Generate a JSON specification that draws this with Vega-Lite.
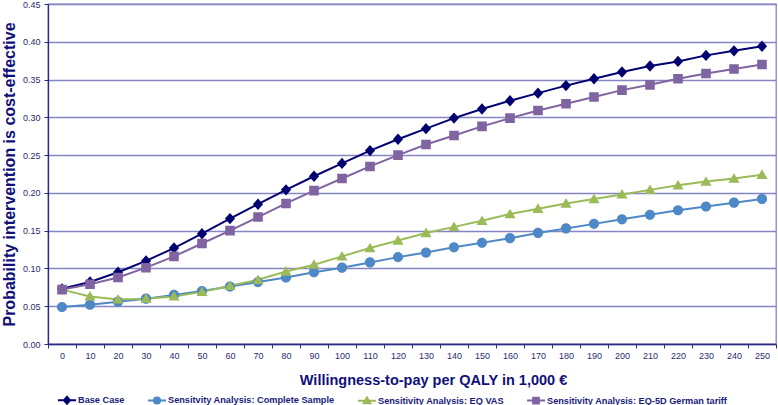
{
  "$schema": "https://vega.github.io/schema/vega-lite/v6.json",
  "width": 728,
  "height": 340,
  "autosize": "none",
  "padding": {"left": 48, "top": 4, "right": 2, "bottom": 61},
  "config": {
    "view": {"stroke": "#8585C2", "strokeWidth": 1.3},
    "font": "Liberation Sans"
  },
  "data": {
    "values": [
      {"wtp": 0, "series": "Base Case", "p": 0.073},
      {"wtp": 10, "series": "Base Case", "p": 0.082},
      {"wtp": 20, "series": "Base Case", "p": 0.095},
      {"wtp": 30, "series": "Base Case", "p": 0.110},
      {"wtp": 40, "series": "Base Case", "p": 0.127},
      {"wtp": 50, "series": "Base Case", "p": 0.146},
      {"wtp": 60, "series": "Base Case", "p": 0.166},
      {"wtp": 70, "series": "Base Case", "p": 0.185},
      {"wtp": 80, "series": "Base Case", "p": 0.204},
      {"wtp": 90, "series": "Base Case", "p": 0.222},
      {"wtp": 100, "series": "Base Case", "p": 0.239},
      {"wtp": 110, "series": "Base Case", "p": 0.256},
      {"wtp": 120, "series": "Base Case", "p": 0.271},
      {"wtp": 130, "series": "Base Case", "p": 0.285},
      {"wtp": 140, "series": "Base Case", "p": 0.299},
      {"wtp": 150, "series": "Base Case", "p": 0.311},
      {"wtp": 160, "series": "Base Case", "p": 0.322},
      {"wtp": 170, "series": "Base Case", "p": 0.332},
      {"wtp": 180, "series": "Base Case", "p": 0.342},
      {"wtp": 190, "series": "Base Case", "p": 0.351},
      {"wtp": 200, "series": "Base Case", "p": 0.360},
      {"wtp": 210, "series": "Base Case", "p": 0.368},
      {"wtp": 220, "series": "Base Case", "p": 0.374},
      {"wtp": 230, "series": "Base Case", "p": 0.382},
      {"wtp": 240, "series": "Base Case", "p": 0.388},
      {"wtp": 250, "series": "Base Case", "p": 0.394},
      {"wtp": 0, "series": "Sensitvity Analysis: Complete Sample", "p": 0.049},
      {"wtp": 10, "series": "Sensitvity Analysis: Complete Sample", "p": 0.052},
      {"wtp": 20, "series": "Sensitvity Analysis: Complete Sample", "p": 0.056},
      {"wtp": 30, "series": "Sensitvity Analysis: Complete Sample", "p": 0.060},
      {"wtp": 40, "series": "Sensitvity Analysis: Complete Sample", "p": 0.065},
      {"wtp": 50, "series": "Sensitvity Analysis: Complete Sample", "p": 0.070},
      {"wtp": 60, "series": "Sensitvity Analysis: Complete Sample", "p": 0.076},
      {"wtp": 70, "series": "Sensitvity Analysis: Complete Sample", "p": 0.082},
      {"wtp": 80, "series": "Sensitvity Analysis: Complete Sample", "p": 0.088},
      {"wtp": 90, "series": "Sensitvity Analysis: Complete Sample", "p": 0.095},
      {"wtp": 100, "series": "Sensitvity Analysis: Complete Sample", "p": 0.101},
      {"wtp": 110, "series": "Sensitvity Analysis: Complete Sample", "p": 0.108},
      {"wtp": 120, "series": "Sensitvity Analysis: Complete Sample", "p": 0.115},
      {"wtp": 130, "series": "Sensitvity Analysis: Complete Sample", "p": 0.121},
      {"wtp": 140, "series": "Sensitvity Analysis: Complete Sample", "p": 0.128},
      {"wtp": 150, "series": "Sensitvity Analysis: Complete Sample", "p": 0.134},
      {"wtp": 160, "series": "Sensitvity Analysis: Complete Sample", "p": 0.140},
      {"wtp": 170, "series": "Sensitvity Analysis: Complete Sample", "p": 0.147},
      {"wtp": 180, "series": "Sensitvity Analysis: Complete Sample", "p": 0.153},
      {"wtp": 190, "series": "Sensitvity Analysis: Complete Sample", "p": 0.159},
      {"wtp": 200, "series": "Sensitvity Analysis: Complete Sample", "p": 0.165},
      {"wtp": 210, "series": "Sensitvity Analysis: Complete Sample", "p": 0.171},
      {"wtp": 220, "series": "Sensitvity Analysis: Complete Sample", "p": 0.177},
      {"wtp": 230, "series": "Sensitvity Analysis: Complete Sample", "p": 0.182},
      {"wtp": 240, "series": "Sensitvity Analysis: Complete Sample", "p": 0.187},
      {"wtp": 250, "series": "Sensitvity Analysis: Complete Sample", "p": 0.192},
      {"wtp": 0, "series": "Sensitivity Analysis: EQ VAS", "p": 0.072},
      {"wtp": 10, "series": "Sensitivity Analysis: EQ VAS", "p": 0.063},
      {"wtp": 20, "series": "Sensitivity Analysis: EQ VAS", "p": 0.059},
      {"wtp": 30, "series": "Sensitivity Analysis: EQ VAS", "p": 0.060},
      {"wtp": 40, "series": "Sensitivity Analysis: EQ VAS", "p": 0.063},
      {"wtp": 50, "series": "Sensitivity Analysis: EQ VAS", "p": 0.069},
      {"wtp": 60, "series": "Sensitivity Analysis: EQ VAS", "p": 0.077},
      {"wtp": 70, "series": "Sensitivity Analysis: EQ VAS", "p": 0.085},
      {"wtp": 80, "series": "Sensitivity Analysis: EQ VAS", "p": 0.096},
      {"wtp": 90, "series": "Sensitivity Analysis: EQ VAS", "p": 0.105},
      {"wtp": 100, "series": "Sensitivity Analysis: EQ VAS", "p": 0.116},
      {"wtp": 110, "series": "Sensitivity Analysis: EQ VAS", "p": 0.127},
      {"wtp": 120, "series": "Sensitivity Analysis: EQ VAS", "p": 0.137},
      {"wtp": 130, "series": "Sensitivity Analysis: EQ VAS", "p": 0.147},
      {"wtp": 140, "series": "Sensitivity Analysis: EQ VAS", "p": 0.155},
      {"wtp": 150, "series": "Sensitivity Analysis: EQ VAS", "p": 0.163},
      {"wtp": 160, "series": "Sensitivity Analysis: EQ VAS", "p": 0.172},
      {"wtp": 170, "series": "Sensitivity Analysis: EQ VAS", "p": 0.179},
      {"wtp": 180, "series": "Sensitivity Analysis: EQ VAS", "p": 0.186},
      {"wtp": 190, "series": "Sensitivity Analysis: EQ VAS", "p": 0.192},
      {"wtp": 200, "series": "Sensitivity Analysis: EQ VAS", "p": 0.198},
      {"wtp": 210, "series": "Sensitivity Analysis: EQ VAS", "p": 0.204},
      {"wtp": 220, "series": "Sensitivity Analysis: EQ VAS", "p": 0.210},
      {"wtp": 230, "series": "Sensitivity Analysis: EQ VAS", "p": 0.215},
      {"wtp": 240, "series": "Sensitivity Analysis: EQ VAS", "p": 0.219},
      {"wtp": 250, "series": "Sensitivity Analysis: EQ VAS", "p": 0.224},
      {"wtp": 0, "series": "Sensitivity Analysis: EQ-5D German tariff", "p": 0.072},
      {"wtp": 10, "series": "Sensitivity Analysis: EQ-5D German tariff", "p": 0.079},
      {"wtp": 20, "series": "Sensitivity Analysis: EQ-5D German tariff", "p": 0.088},
      {"wtp": 30, "series": "Sensitivity Analysis: EQ-5D German tariff", "p": 0.101},
      {"wtp": 40, "series": "Sensitivity Analysis: EQ-5D German tariff", "p": 0.116},
      {"wtp": 50, "series": "Sensitivity Analysis: EQ-5D German tariff", "p": 0.133},
      {"wtp": 60, "series": "Sensitivity Analysis: EQ-5D German tariff", "p": 0.150},
      {"wtp": 70, "series": "Sensitivity Analysis: EQ-5D German tariff", "p": 0.168},
      {"wtp": 80, "series": "Sensitivity Analysis: EQ-5D German tariff", "p": 0.186},
      {"wtp": 90, "series": "Sensitivity Analysis: EQ-5D German tariff", "p": 0.203},
      {"wtp": 100, "series": "Sensitivity Analysis: EQ-5D German tariff", "p": 0.219},
      {"wtp": 110, "series": "Sensitivity Analysis: EQ-5D German tariff", "p": 0.235},
      {"wtp": 120, "series": "Sensitivity Analysis: EQ-5D German tariff", "p": 0.250},
      {"wtp": 130, "series": "Sensitivity Analysis: EQ-5D German tariff", "p": 0.264},
      {"wtp": 140, "series": "Sensitivity Analysis: EQ-5D German tariff", "p": 0.276},
      {"wtp": 150, "series": "Sensitivity Analysis: EQ-5D German tariff", "p": 0.288},
      {"wtp": 160, "series": "Sensitivity Analysis: EQ-5D German tariff", "p": 0.299},
      {"wtp": 170, "series": "Sensitivity Analysis: EQ-5D German tariff", "p": 0.309},
      {"wtp": 180, "series": "Sensitivity Analysis: EQ-5D German tariff", "p": 0.318},
      {"wtp": 190, "series": "Sensitivity Analysis: EQ-5D German tariff", "p": 0.327},
      {"wtp": 200, "series": "Sensitivity Analysis: EQ-5D German tariff", "p": 0.336},
      {"wtp": 210, "series": "Sensitivity Analysis: EQ-5D German tariff", "p": 0.343},
      {"wtp": 220, "series": "Sensitivity Analysis: EQ-5D German tariff", "p": 0.351},
      {"wtp": 230, "series": "Sensitivity Analysis: EQ-5D German tariff", "p": 0.358},
      {"wtp": 240, "series": "Sensitivity Analysis: EQ-5D German tariff", "p": 0.364},
      {"wtp": 250, "series": "Sensitivity Analysis: EQ-5D German tariff", "p": 0.370}
    ]
  },
  "encoding": {
    "x": {
      "field": "wtp",
      "type": "ordinal",
      "scale": {"type": "band", "paddingInner": 0, "paddingOuter": 0},
      "axis": {
        "title": "Willingness-to-pay per QALY in 1,000 €",
        "titleFont": "Liberation Sans",
        "titleFontSize": 14.5,
        "titleFontWeight": "bold",
        "titleColor": "#10107A",
        "titleX": 385,
        "titleY": 40.5,
        "titleBaseline": "alphabetic",
        "labelAngle": 0,
        "labelFont": "Liberation Sans",
        "labelFontSize": 9,
        "labelColor": "#2B2B6B",
        "labelPadding": 3,
        "tickBand": "extent",
        "tickSize": 4,
        "tickColor": "#2A2A80",
        "domainColor": "#2A2A80",
        "domainWidth": 1.3,
        "grid": false
      }
    },
    "y": {
      "field": "p",
      "type": "quantitative",
      "scale": {"domain": [0, 0.45]},
      "axis": {
        "title": "Probability intervention is cost-effective",
        "titleFont": "Liberation Sans",
        "titleFontSize": 16,
        "titleFontWeight": "bold",
        "titleColor": "#10107A",
        "titlePadding": 5,
        "values": [0, 0.05, 0.1, 0.15, 0.2, 0.25, 0.3, 0.35, 0.4, 0.45],
        "format": ".2f",
        "labelFont": "Liberation Sans",
        "labelFontSize": 9,
        "labelColor": "#2B2B6B",
        "labelPadding": 4,
        "tickSize": 4,
        "tickColor": "#2A2A80",
        "domainColor": "#2A2A80",
        "domainWidth": 1.3,
        "grid": true,
        "gridColor": "#8585C2",
        "gridWidth": 1.3
      }
    },
    "color": {
      "field": "series",
      "type": "nominal",
      "scale": {
        "domain": ["Base Case", "Sensitvity Analysis: Complete Sample", "Sensitivity Analysis: EQ VAS", "Sensitivity Analysis: EQ-5D German tariff"],
        "range": ["#000070", "#4F88C6", "#9BBB59", "#8064A2"]
      },
      "legend": {
        "orient": "none",
        "legendX": 9,
        "legendY": 386,
        "direction": "horizontal",
        "title": null,
        "symbolSize": 324,
        "labelFont": "Liberation Sans",
        "labelFontWeight": "bold",
        "labelFontSize": 9.2,
        "labelColor": "#1A1A7A",
        "labelLimit": 0,
        "labelOffset": 1,
        "columnPadding": 19,
        "padding": 0,
        "encode": {
          "symbols": {
            "update": {
              "stroke": {"scale": "color", "field": "value"},
              "strokeWidth": {"value": 2},
              "opacity": {"value": 1}
            }
          }
        }
      }
    }
  },
  "layer": [
    {"mark": {"type": "line", "strokeWidth": 2}},
    {
      "mark": {"type": "point", "filled": true, "opacity": 1, "size": 900},
      "encoding": {
        "shape": {
          "field": "series",
          "type": "nominal",
          "scale": {
            "domain": ["Base Case", "Sensitvity Analysis: Complete Sample", "Sensitivity Analysis: EQ VAS", "Sensitivity Analysis: EQ-5D German tariff"],
            "range": [
              "M-1,0H1M0,-0.38L0.34,0L0,0.38L-0.34,0Z",
              "M-1,0H1M-0.34,0A0.34,0.34,0,1,1,0.34,0A0.34,0.34,0,1,1,-0.34,0Z",
              "M-1,0H1M0,-0.36L0.37,0.28L-0.37,0.28Z",
              "M-1,0H1M-0.32,-0.32H0.32V0.32H-0.32Z"
            ]
          },
          "legend": {
            "orient": "none",
            "legendX": 9,
            "legendY": 386,
            "direction": "horizontal",
            "title": null,
            "symbolSize": 324,
            "labelFont": "Liberation Sans",
            "labelFontWeight": "bold",
            "labelFontSize": 9.2,
            "labelColor": "#1A1A7A",
            "labelLimit": 0,
            "labelOffset": 1,
            "columnPadding": 19,
            "padding": 0,
            "encode": {
              "symbols": {
                "update": {
                  "stroke": {"scale": "color", "field": "value"},
                  "strokeWidth": {"value": 2},
                  "opacity": {"value": 1}
                }
              }
            }
          }
        }
      }
    }
  ]
}
